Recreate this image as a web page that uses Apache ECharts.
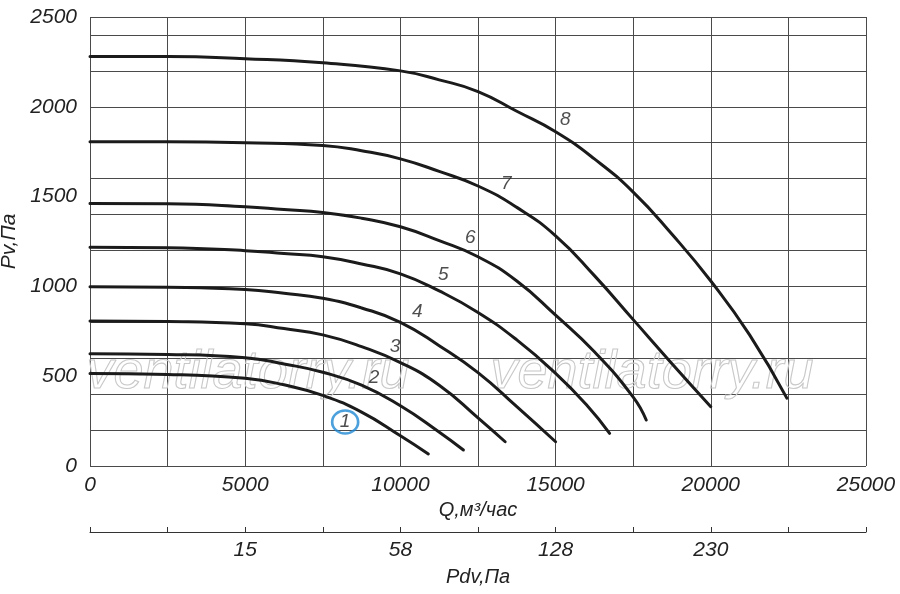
<!DOCTYPE html>
<html>
  <head>
    <meta charset="utf-8" />
    <title>Pv - Q</title>
    <style type="text/css">
      html,
      body {
        margin: 0;
        width: 100%;
        height: 100%;
        background: #fff;
      }
    </style>
    <script src="https://cdn.jsdelivr.net/npm/echarts@6/dist/echarts.min.js"></script>
  </head>
  <body>
    <div id="chart" style="width: 900px; height: 594px"></div>
    <script type="text/javascript">
      // кривые [Q, Pv]
      var curve1 = [[0, 515], [2500, 510], [5000, 488], [6250, 452], [7500, 393], [8750, 300], [10000, 168], [10900, 67]];
      var curve2 = [[0, 625], [2500, 621], [5000, 603], [6250, 568], [7500, 522], [8750, 450], [10000, 335], [11200, 195], [12030, 89]];
      var curve3 = [[0, 808], [2500, 805], [5000, 792], [6250, 765], [7500, 730], [8750, 665], [10000, 576], [11250, 450], [12500, 268], [13375, 135]];
      var curve4 = [[0, 998], [2500, 995], [5000, 983], [6250, 962], [7500, 934], [8750, 880], [10000, 800], [11250, 670], [12500, 520], [13750, 330], [15000, 135]];
      var curve5 = [[0, 1218], [2500, 1215], [5000, 1199], [6250, 1183], [7500, 1165], [8750, 1125], [10000, 1070], [11250, 975], [12500, 855], [13750, 702], [15000, 516], [16000, 340], [16740, 182]];
      var curve6 = [[0, 1462], [2500, 1460], [5000, 1444], [6250, 1428], [7500, 1412], [8750, 1380], [10000, 1332], [11250, 1255], [12500, 1165], [13750, 1030], [15000, 840], [16250, 636], [17500, 384], [17920, 256]];
      var curve7 = [[0, 1805], [2500, 1805], [5000, 1800], [7500, 1785], [8750, 1755], [10000, 1710], [11250, 1640], [12500, 1559], [13750, 1440], [15000, 1282], [16250, 1060], [17500, 815], [18750, 570], [20000, 330]];
      var curve8 = [[0, 2280], [2500, 2280], [5000, 2268], [7500, 2245], [10000, 2200], [11250, 2150], [12500, 2085], [13750, 1975], [15000, 1861], [16250, 1710], [17500, 1525], [18750, 1290], [20000, 1030], [21250, 730], [22450, 378]];
      var curves = [curve1, curve2, curve3, curve4, curve5, curve6, curve7, curve8];

      // подписи кривых
      var curveNames = ["1", "2", "3", "4", "5", "6", "7", "8"];
      var nameQ = [8220, 9150, 9830, 10540, 11380, 12250, 13410, 15310];
      var nameP = [245, 490, 663, 857, 1063, 1270, 1570, 1926];

      // шкала динамического давления
      var pdvAt = [5000, 10000, 15000, 20000];
      var pdvLabels = ["15", "58", "128", "230"];

      var FONT = "'Liberation Sans', Arial, sans-serif";
      var TXT = "#222";
      var GRIDC = "#4a4a4a";

      var chart = echarts.init(document.getElementById("chart"));

      var series = curves.map(function (c, i) {
        return {
          name: curveNames[i],
          type: "line",
          data: c,
          smooth: 0.5,
          showSymbol: false,
          silent: true,
          z: 3,
          lineStyle: { color: "#1b1b1b", width: 3, cap: "round" },
        };
      });

      series.push({
        type: "scatter",
        silent: true,
        z: 4,
        data: curveNames.map(function (n, i) {
          var item = { value: [nameQ[i], nameP[i]], name: n };
          if (i === 0) {
            item.symbol = "circle";
            item.symbolSize = [26, 23];
            item.itemStyle = { color: "rgba(0,0,0,0)", borderColor: "#1f88d2", borderWidth: 2.5 };
          }
          return item;
        }),
        symbolSize: 0,
        label: {
          show: true,
          position: "inside",
          formatter: "{b}",
          fontFamily: FONT,
          fontStyle: "italic",
          fontSize: 19,
          color: TXT,
        },
      });

      var option = {
        animation: false,
        grid: { left: 90, right: 34, top: 17, bottom: 128, outerBoundsMode: "none", containLabel: false },
        graphic: [
          {
            type: "text",
            left: 86,
            top: 345,
            z: 1,
            silent: true,
            style: {
              text: "ventilatorry.ru",
              font: "italic 54px 'Liberation Sans', Arial, sans-serif",
              fill: "rgba(255,255,255,0)",
              stroke: "#c8c8c8",
              lineWidth: 1.1,
            },
          },
          {
            type: "text",
            left: 490,
            top: 345,
            z: 1,
            silent: true,
            style: {
              text: "ventilatorry.ru",
              font: "italic 54px 'Liberation Sans', Arial, sans-serif",
              fill: "rgba(255,255,255,0)",
              stroke: "#c8c8c8",
              lineWidth: 1.1,
            },
          },
        ],
        xAxis: [
          {
            type: "value",
            min: 0,
            max: 25000,
            interval: 2500,
            name: "Q,м³/час",
            nameLocation: "middle",
            nameGap: 34,
            nameTextStyle: { fontFamily: FONT, fontStyle: "italic", fontSize: 20, color: TXT },
            axisLine: { show: false },
            axisTick: { show: false },
            axisLabel: {
              margin: 9,
              fontFamily: FONT,
              fontStyle: "italic",
              fontSize: 21,
              color: TXT,
              showMinLabel: true,
              showMaxLabel: true,
              formatter: function (v) {
                return v % 5000 === 0 ? String(v) : "";
              },
            },
            splitLine: { show: true, lineStyle: { color: GRIDC, width: 1 } },
          },
          {
            type: "value",
            min: 0,
            max: 25000,
            interval: 2500,
            position: "bottom",
            offset: 66,
            name: "Pdv,Па",
            nameLocation: "middle",
            nameGap: 35,
            nameTextStyle: { fontFamily: FONT, fontStyle: "italic", fontSize: 20, color: TXT },
            axisLine: { show: true, onZero: false, lineStyle: { color: "#333", width: 1 } },
            axisTick: { show: true, inside: true, length: 5, lineStyle: { color: "#333" } },
            axisLabel: {
              margin: 8,
              fontFamily: FONT,
              fontStyle: "italic",
              fontSize: 21,
              color: TXT,
              showMinLabel: true,
              showMaxLabel: true,
              formatter: function (v) {
                var k = pdvAt.indexOf(v);
                return k >= 0 ? pdvLabels[k] : "";
              },
            },
            splitLine: { show: false },
          },
        ],
        yAxis: [
          {
            type: "value",
            min: 0,
            max: 2500,
            interval: 500,
            name: "Pv,Па",
            nameLocation: "middle",
            nameGap: 62,
            nameTextStyle: { fontFamily: FONT, fontStyle: "italic", fontSize: 21, color: TXT },
            axisLine: { show: false },
            axisTick: { show: false },
            axisLabel: {
              margin: 13,
              fontFamily: FONT,
              fontStyle: "italic",
              fontSize: 21,
              color: TXT,
              formatter: function (v) {
                return String(v);
              },
            },
            splitLine: { show: false },
          },
          {
            type: "value",
            min: 0,
            max: 2500,
            interval: 200,
            position: "left",
            axisLine: { show: false },
            axisTick: { show: false },
            axisLabel: { show: false },
            splitLine: { show: true, lineStyle: { color: GRIDC, width: 1 } },
          },
        ],
        series: series,
      };
      chart.setOption(option);
    </script>
  </body>
</html>
